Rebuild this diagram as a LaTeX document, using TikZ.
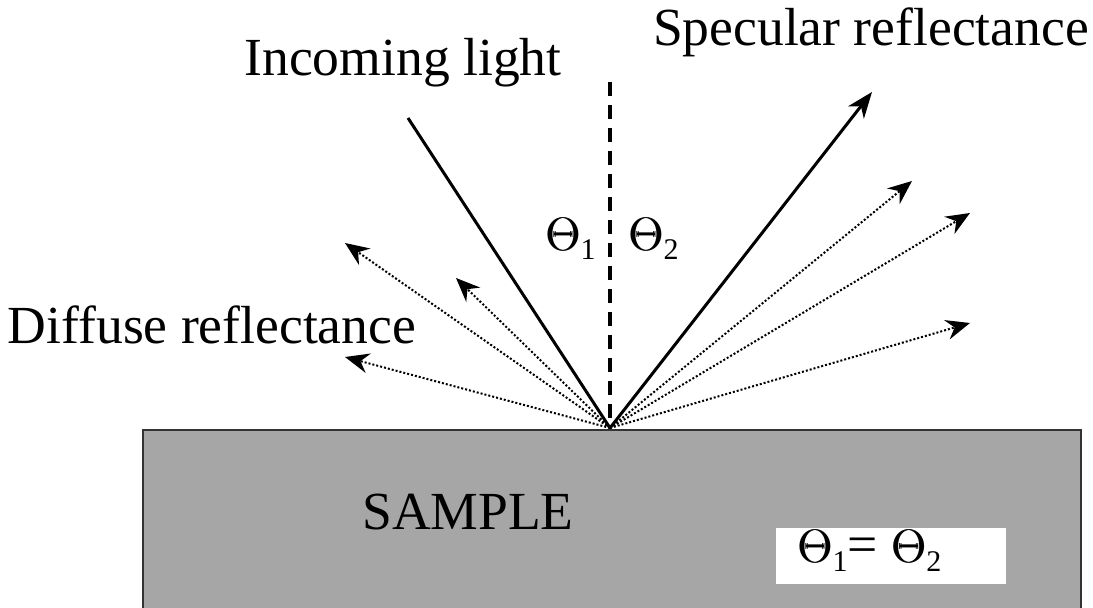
\documentclass[tikz,border=0pt]{standalone}
\usepackage{graphicx}
\usepackage[no-math]{fontspec}
\setmainfont{Liberation Serif}
\usetikzlibrary{arrows.meta}
\definecolor{samplegray}{RGB}{166,166,166}
\newcommand{\thetaglyph}{\makebox[0pt][l]{$\Theta$}\kern0.6pt$\Theta$}
\newcommand{\thsub}[1]{\scalebox{1.133}{\fontsize{20.74}{24}\selectfont\thetaglyph}\raisebox{-4.5pt}{\fontsize{15}{15}\selectfont #1}}

\begin{document}
\begin{tikzpicture}[
        x=0.5pt, y=-0.5pt,
        font=\fontsize{26.8}{32}\selectfont,
        ray/.style={line width=1.5pt},
        spec/.style={ray, -{Stealth[length=13pt, width=10pt, inset=4pt]}},
        diff/.style={line width=1pt, dash pattern=on 1pt off 1pt,
                     -{Stealth[length=12pt, width=10pt, inset=4pt]}},
        normal/.style={line width=2pt, dash pattern=on 7pt off 4.5pt},
        label/.style={inner sep=0pt, anchor=center},
        angle/.style={inner sep=0pt, anchor=base west}
    ]
        \clip (0,0) rectangle (1093,608);

        % sample block
        \filldraw[fill=samplegray, draw=black!80, line width=0.8pt]
            (143,612) -- (143,430) -- (1081,430) -- (1081,612);
        \node[label] (sample) at (468,512) {SAMPLE};
        \node[fill=white, minimum width=115pt, minimum height=28pt, inner sep=0pt]
            (eqbox) at (891,556) {};
        \node[angle] (eq) at (797,563) {\thsub{1}= \thsub{2}};

        % rays
        \coordinate (hit) at (610,428);
        \coordinate (src) at (408,118);
        \coordinate (top) at (610,82);
        \coordinate (out) at (872,92);
        \coordinate (r1) at (912,181);
        \coordinate (r2) at (970,213);
        \coordinate (r3) at (970,323);
        \coordinate (l1) at (345,243);
        \coordinate (l2) at (456,278);
        \coordinate (l3) at (345,357);

        \draw[normal] (top) -- (hit);
        \draw[ray] (src) -- (hit);
        \draw[spec] (hit) -- (out);
        \foreach \e in {r1,r2,r3,l1,l2,l3}
            \draw[diff] (hit) -- (\e);

        % labels
        \node[label] (inc) at (403,63) {Incoming light};
        \node[label] (spl) at (871,32) {Specular reflectance};
        \node[label] (dif) at (212,325) {Diffuse reflectance};
        \node[angle] (th1) at (545,251) {\thsub{1}};
        \node[angle] (th2) at (628,251) {\thsub{2}};
    \end{tikzpicture}
\end{document}
